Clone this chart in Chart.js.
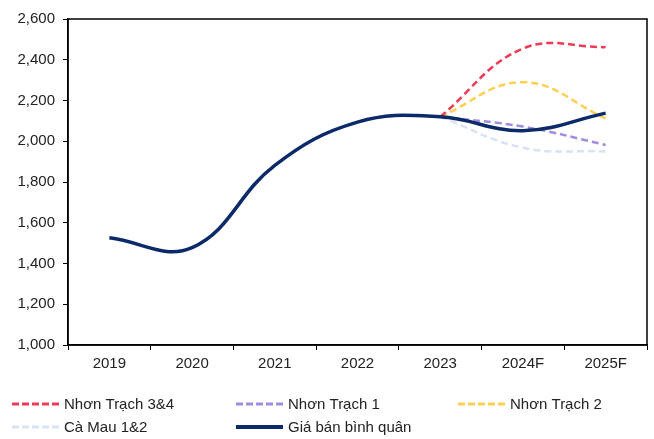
<!DOCTYPE html>
<html lang="vi">
<head>
    <meta charset="UTF-8">
    <title>Giá bán bình quân</title>
    <script src="https://cdn.jsdelivr.net/npm/chart.js"></script>
    <style>
        html, body { margin: 0; padding: 0; background: #fff; }
        #wrap { width: 654px; height: 439px; }
    </style>
</head>
<body>
    <div id="wrap"><canvas id="priceChart" width="654" height="439"></canvas></div>

    <script>
        const years = ["2019", "2020", "2021", "2022", "2023", "2024F", "2025F"];
        const nhonTrach34 = [null, null, null, null, 2120, 2455, 2462];
        const nhonTrach1 = [null, null, null, null, 2120, 2072, 1982];
        const nhonTrach2 = [null, null, null, null, 2120, 2290, 2112];
        const caMau12 = [null, null, null, null, 2120, 1968, 1950];
        const avgPrice = [1526, 1478, 1882, 2094, 2120, 2052, 2138];
        const yTicks = [1000, 1200, 1400, 1600, 1800, 2000, 2200, 2400, 2600];

        const FONT = "'Liberation Sans', Arial, sans-serif";

        function dashed(label, data, color) {
            return {
                label: label, data: data, borderColor: color, backgroundColor: color,
                borderWidth: 2.5, borderDash: [7, 4], pointRadius: 0, tension: 0.4,
                spanGaps: false
            };
        }

        const datasets = [
            dashed("Nhơn Trạch 3&4", nhonTrach34, "#ee3a56"),
            dashed("Nhơn Trạch 1", nhonTrach1, "#a08ce0"),
            dashed("Nhơn Trạch 2", nhonTrach2, "#fdd052"),
            dashed("Cà Mau 1&2", caMau12, "#d9e3f3"),
            {
                label: "Giá bán bình quân", data: avgPrice, borderColor: "#0c2a6a",
                backgroundColor: "#0c2a6a", borderWidth: 3.5, pointRadius: 0, tension: 0.4
            }
        ];
        // draw the average line on top of the dashed ones
        datasets[4].order = -1;

        // frame around the plot area
        const framePlugin = {
            id: "frame",
            afterDatasetsDraw(chart) {
                const a = chart.chartArea, c = chart.ctx;
                c.save();
                c.strokeStyle = "#000";
                c.lineWidth = 1.5;
                c.strokeRect(a.left, a.top, a.right - a.left, a.bottom - a.top);
                c.restore();
            }
        };

        // legend in three fixed columns under the chart
        const legendPlugin = {
            id: "gridLegend",
            afterDraw(chart) {
                const c = chart.ctx;
                const cols = [12, 236, 458];
                const rows = [404, 427];
                c.save();
                c.font = "15px " + FONT;
                c.textBaseline = "middle";
                chart.data.datasets.forEach((ds, i) => {
                    const x = cols[i % 3], y = rows[Math.floor(i / 3)];
                    c.strokeStyle = ds.borderColor;
                    c.lineWidth = ds.borderDash ? 3 : 4;
                    c.setLineDash(ds.borderDash ? [7, 3] : []);
                    c.beginPath();
                    c.moveTo(x, y);
                    c.lineTo(x + 47, y);
                    c.stroke();
                    c.setLineDash([]);
                    c.fillStyle = "#222";
                    c.fillText(ds.label, x + 52, y + 1);
                });
                c.restore();
            }
        };

        new Chart(document.getElementById("priceChart"), {
            type: "line",
            data: { labels: years, datasets: datasets },
            plugins: [framePlugin, legendPlugin],
            options: {
                responsive: false,
                animation: false,
                layout: { padding: { left: 0, top: 19, right: 7, bottom: 0 } },
                plugins: { legend: { display: false }, tooltip: { enabled: false } },
                scales: {
                    x: {
                        offset: true,
                        grid: { offset: true, drawOnChartArea: false, drawTicks: true, tickLength: 5, color: "#000" },
                        border: { display: true, color: "#000", width: 1.5 },
                        ticks: { color: "#222", font: { family: FONT, size: 15 }, padding: 5, maxRotation: 0 },
                        afterFit(scale) { scale.height = 94; }
                    },
                    y: {
                        min: 1000, max: 2600,
                        afterBuildTicks(scale) { scale.ticks = yTicks.map(v => ({ value: v })); },
                        grid: { drawOnChartArea: false, drawTicks: true, tickLength: 5, color: "#000" },
                        border: { display: true, color: "#000", width: 1.5 },
                        ticks: {
                            color: "#222", font: { family: FONT, size: 15 }, padding: 8,
                            callback: v => v.toLocaleString("en-US")
                        },
                        afterFit(scale) { scale.width = 68; }
                    }
                }
            }
        });
    </script>
</body>
</html>
